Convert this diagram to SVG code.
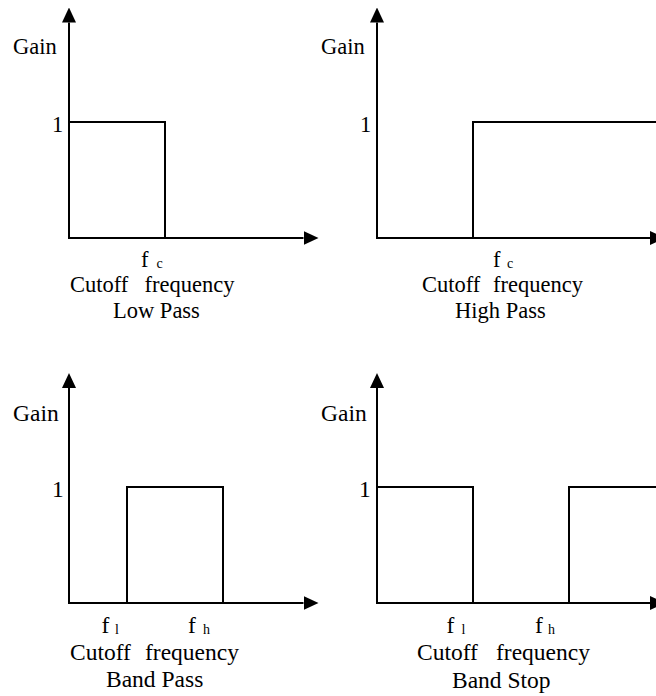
<svg xmlns="http://www.w3.org/2000/svg" width="656" height="696" viewBox="0 0 656 696">
<defs>
<style>
.t{font-family:"Liberation Serif","Times New Roman",serif;font-size:22.5px;fill:#000}
.b{font-family:"Liberation Serif","Times New Roman",serif;font-size:23.5px;fill:#000}
.s{font-family:"Liberation Serif","Times New Roman",serif;font-size:14px;fill:#000}
.ax{stroke:#000;stroke-width:2;fill:none}
.pl{stroke:#000;stroke-width:2;fill:none;stroke-linejoin:miter}
</style>
<marker id="arr" viewBox="0 0 15 14" refX="0" refY="7" markerWidth="15" markerHeight="14" markerUnits="userSpaceOnUse" orient="auto">
<path d="M0,0 L15,7 L0,14 Z" fill="#000"/>
</marker>
</defs>
<rect width="656" height="696" fill="#fff"/>

<g id="connectors">
<line class="ax" x1="69" y1="238" x2="69" y2="22.5" marker-end="url(#arr)"/>
<line class="ax" x1="68" y1="238" x2="303.5" y2="238" marker-end="url(#arr)"/>
<line class="ax" x1="377" y1="238" x2="377" y2="22.5" marker-end="url(#arr)"/>
<line class="ax" x1="376" y1="238" x2="650" y2="238" marker-end="url(#arr)"/>
<line class="ax" x1="69" y1="603" x2="69" y2="388" marker-end="url(#arr)"/>
<line class="ax" x1="68" y1="603" x2="303.5" y2="603" marker-end="url(#arr)"/>
<line class="ax" x1="377" y1="603" x2="377" y2="388" marker-end="url(#arr)"/>
<line class="ax" x1="376" y1="603" x2="650" y2="603" marker-end="url(#arr)"/>
</g>

<g id="low-pass">
<polyline class="pl" points="69,122 165,122 165,238"/>
<text class="t" x="13" y="54">Gain</text>
<text class="t" x="52" y="131.5">1</text>
<text class="t" x="141" y="267">f</text><text class="s" x="156.5" y="268">c</text>
<text class="t" x="70" y="292">Cutoff</text><text class="t" x="144.5" y="292">frequency</text>
<text class="t" x="113" y="318">Low Pass</text>
</g>

<g id="high-pass">
<polyline class="pl" points="473,238 473,122 660,122"/>
<text class="t" x="321" y="54">Gain</text>
<text class="t" x="360" y="131.5">1</text>
<text class="t" x="493" y="267">f</text><text class="s" x="507" y="268">c</text>
<text class="t" x="422" y="292">Cutoff</text><text class="t" x="493" y="292">frequency</text>
<text class="t" x="455" y="318">High Pass</text>
</g>

<g id="band-pass">
<polyline class="pl" points="127,603 127,487 223,487 223,603"/>
<text class="b" x="13" y="420.5">Gain</text>
<text class="b" x="52" y="497">1</text>
<text class="b" x="101.5" y="633">f</text><text class="s" x="115" y="634">l</text>
<text class="b" x="188" y="633">f</text><text class="s" x="203" y="634">h</text>
<text class="b" x="70" y="660">Cutoff</text><text class="b" x="145" y="660">frequency</text>
<text class="b" x="106" y="687">Band Pass</text>
</g>

<g id="band-stop">
<polyline class="pl" points="377,487 473,487 473,603"/>
<polyline class="pl" points="569,603 569,487 660,487"/>
<text class="b" x="321" y="420.5">Gain</text>
<text class="b" x="359" y="497">1</text>
<text class="b" x="446.5" y="633">f</text><text class="s" x="461.5" y="634">l</text>
<text class="b" x="535" y="633">f</text><text class="s" x="548" y="634">h</text>
<text class="b" x="417" y="660">Cutoff</text><text class="b" x="496" y="660">frequency</text>
<text class="b" x="452" y="688">Band Stop</text>
</g>
</svg>
